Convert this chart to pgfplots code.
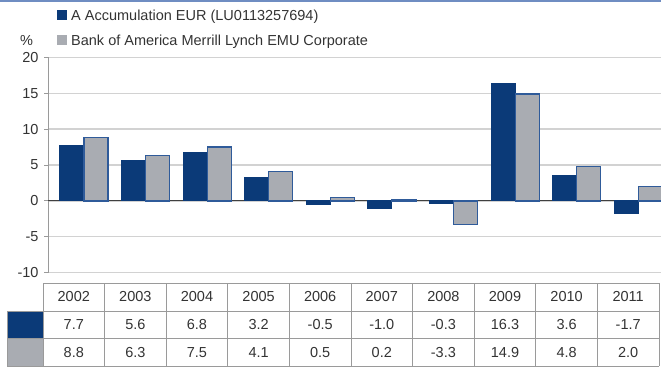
\documentclass[border=0pt]{standalone}
\usepackage{pgfplots}
\pgfplotsset{compat=1.18}
\usepackage{pgfplotstable}
\usepackage{fontspec}
\setmainfont{Liberation Sans}
\definecolor{dblue}{HTML}{0B3A78}
\definecolor{lgray}{HTML}{A9ACB2}
\definecolor{obl}{HTML}{2F5B9A}
\definecolor{topbl}{HTML}{6F8DC2}
\definecolor{txt}{HTML}{333333}
\definecolor{tbl}{HTML}{9A9A9A}
\definecolor{grd}{HTML}{D2D2D2}
\newcommand\f{\fontsize{14.5pt}{17pt}\selectfont}

\pgfplotstableread{
x year a b
0 2002 7.7 8.8
1 2003 5.6 6.3
2 2004 6.8 7.5
3 2005 3.2 4.1
4 2006 -0.5 0.5
5 2007 -1.0 0.2
6 2008 -0.3 -3.3
7 2009 16.3 14.9
8 2010 3.6 4.8
9 2011 -1.7 2.0
}\data

\begin{document}
\begin{tikzpicture}[x=1pt,y=1pt]
\path[use as bounding box] (0,0) rectangle (661,367);
\fill[topbl] (0,365) rectangle (661,367);
\begin{axis}[
  at={(48pt,94.3pt)}, anchor=south west,
  scale only axis, width=613pt, height=215.4pt,
  xmin=-0.584, xmax=9.367, ymin=-10, ymax=20,
  ytick={-10,-5,0,5,10,15,20},
  axis x line=none, axis y line*=left,
  axis line style={draw=tbl, line width=1pt},
  tick align=outside, major tick length=4pt,
  tick style={draw=tbl, line width=0.8pt},
  ymajorgrids, grid style={draw=grd, line width=1.3pt},
  extra y ticks={0}, extra y tick labels={},
  extra y tick style={grid style={draw=black!75, line width=1pt}, major tick length=0pt},
  yticklabel style={font=\f, text=txt, xshift=-2pt},
  /pgf/number format/assume math mode=true,
  clip=false,
]
\addplot[ybar, bar width=24pt, bar shift=-12pt, fill=dblue, draw=dblue, line width=1pt] table[x=x,y=a]{\data};
\addplot[ybar, bar width=24pt, bar shift=12pt, fill=lgray, draw=obl, line width=1.3pt] table[x=x,y=b]{\data};
\addplot[forget plot, only marks, mark=none, nodes near coords, point meta=explicit symbolic,
  every node near coord/.style={anchor=center, font=\f, text=txt}]
  table[x expr=\thisrow{x}-0.1656, y expr=-13.38, meta=year]{\data};
\addplot[forget plot, only marks, mark=none, nodes near coords, point meta=explicit symbolic,
  every node near coord/.style={anchor=center, font=\f, text=txt}]
  table[x expr=\thisrow{x}-0.1656, y expr=-17.21, meta=a]{\data};
\addplot[forget plot, only marks, mark=none, nodes near coords, point meta=explicit symbolic,
  every node near coord/.style={anchor=center, font=\f, text=txt}]
  table[x expr=\thisrow{x}-0.1656, y expr=-21.11, meta=b]{\data};
\end{axis}
% table
\fill[dblue] (7,28.5) rectangle (43,56);
\fill[lgray] (7,1) rectangle (43,28.5);
\begin{scope}[draw=tbl, line width=1pt]
\draw (43,84) -- (659,84);
\draw (7,56) -- (659,56);
\draw (7,28.5) -- (659,28.5);
\draw (7,1) -- (659,1);
\draw (7,1) -- (7,56);
\foreach \k in {0,...,10} { \draw ({43+61.6*\k},1) -- ({43+61.6*\k},84); }
\end{scope}
% legend
\fill[dblue] (57,347) rectangle (67,357);
\fill[lgray] (57,322) rectangle (67,332);
\node[anchor=base west, inner sep=0pt, font=\f, text=txt] at (71,346.5) {A Accumulation EUR (LU0113257694)};
\node[anchor=base west, inner sep=0pt, font=\f, text=txt] at (71,321.5) {Bank of America Merrill Lynch EMU Corporate};
\node[anchor=base west, inner sep=0pt, font=\f, text=txt] at (20,321.5) {\%};
\end{tikzpicture}
\end{document}
